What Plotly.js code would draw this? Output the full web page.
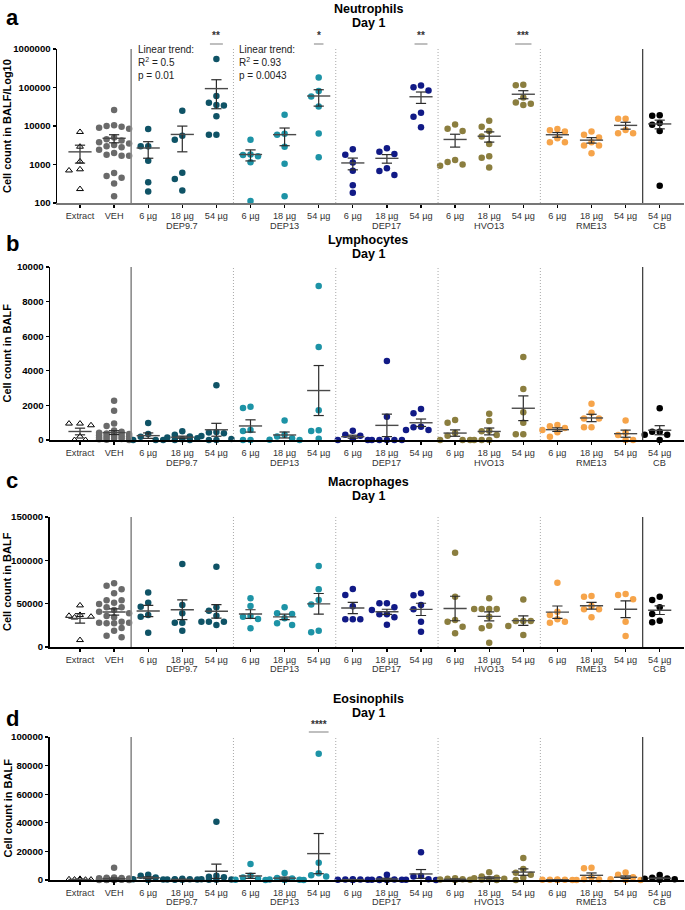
<!DOCTYPE html>
<html>
<head>
<meta charset="utf-8">
<script src="https://cdn.plot.ly/plotly-3.0.1.min.js"></script>
<style>
  html, body { margin: 0; padding: 0; background: #fff; }
  #chart { width: 685px; height: 910px; }
</style>
</head>
<body>
<div id="chart"></div>
<script>
// Cell counts in BALF, day 1 - one list per group

const doseLabels = ['Extract', 'VEH',
    '6 µg', '18 µg', '54 µg',
    '6 µg', '18 µg', '54 µg',
    '6 µg', '18 µg', '54 µg',
    '6 µg', '18 µg', '54 µg',
    '6 µg', '18 µg', '54 µg',
    '54 µg'];

// particle names, written under the middle dose of each group
const groupNames = ['DEP9.7', 'DEP13', 'DEP17', 'HVO13', 'RME13', 'CB'];
const groupCenters = [3, 6, 9, 12, 15, 17];

const neutrophils = [
    [7000, 2900, 1200, 750, 700, 230],
    [26000, 10500, 10000, 9500, 9000, 8500, 5000, 4500, 4200, 3800, 3500, 3200, 3000, 2800, 2400, 2000, 1800, 1700, 1700, 600, 500, 450, 320, 150],
    [8300, 3000, 3000, 1260, 345, 200],
    [25000, 5600, 4400, 610, 420, 210],
    [550000, 60000, 40000, 35000, 34000, 18000, 5900, 5900],
    [4400, 1830, 1770, 1650, 1140, 112],
    [19500, 6300, 5900, 2900, 1050, 150],
    [182000, 81000, 58000, 32000, 6400, 1550],
    [2500, 1800, 1120, 690, 290, 185],
    [2650, 2150, 1870, 800, 680, 530],
    [112000, 101000, 83000, 22000, 17500, 9300],
    [11000, 8500, 7400, 1310, 1160, 1000, 930],
    [13700, 9600, 7400, 5300, 3400, 1650, 1500, 830],
    [118000, 114000, 55000, 41000, 38000, 35000],
    [8300, 7700, 7200, 4800, 3800, 3800],
    [7200, 5900, 5000, 3800, 3100, 3100, 1950],
    [15500, 15500, 7900, 6500, 6500],
    [19000, 18500, 12000, 10700, 7400, 280]
];

const lymphocytes = [
    [950, 950, 850, 200, 0, 0],
    [2270, 1690, 960, 810, 550, 480, 420, 380, 350, 320, 300, 280, 250, 220, 200, 180, 150, 130, 100, 80, 60, 40, 20, 0],
    [980, 345, 190, 0, 0, 0],
    [500, 300, 200, 150, 100, 50, 0, 0],
    [3160, 460, 430, 390, 230, 60, 0, 0],
    [1920, 1850, 580, 520, 0, 0],
    [1120, 300, 200, 100, 20, 0],
    [8900, 5380, 1720, 560, 520, 75],
    [540, 300, 250, 50, 0, 0],
    [4570, 1350, 0, 0, 0, 0, 0],
    [1790, 1540, 760, 730, 580, 580],
    [1150, 1000, 400, 250, 0, 0, 0],
    [1520, 1100, 540, 500, 290, 0, 0, 0],
    [4800, 2950, 1600, 1000, 330, 330],
    [870, 800, 700, 580, 450, 190],
    [2100, 1580, 1250, 1250, 730, 730],
    [1120, 420, 290, 0, 0],
    [1830, 480, 480, 300, 300, 0]
];

const macrophages = [
    [48000, 37000, 36000, 35000, 34000, 8000],
    [73500, 70700, 66500, 62000, 54000, 54000, 51000, 49600, 45800, 45800, 42700, 40700, 38800, 35800, 34200, 29200, 28000, 27300, 28000, 27300, 21900, 18800, 13000, 11200],
    [63000, 51000, 46500, 37000, 35000, 16500],
    [95800, 48500, 38900, 28000, 28000, 18800],
    [92700, 45800, 41900, 36100, 29200, 29200, 29200, 25400],
    [56200, 47300, 35800, 35000, 32300, 21600],
    [45800, 38900, 38000, 33100, 27300, 25400],
    [93500, 66500, 54200, 49000, 18800, 16900],
    [67000, 60000, 47000, 32000, 32000, 32000],
    [50400, 50400, 45800, 42700, 37700, 37700, 34200, 25800],
    [62000, 59600, 48500, 43500, 29200, 17700],
    [108800, 58000, 31200, 29200, 23500, 15800],
    [56200, 43800, 43800, 43800, 43800, 35000, 24600, 21600, 5000],
    [54700, 30000, 30000, 30000, 24200, 13800],
    [74200, 40800, 37000, 32000, 29200, 28000],
    [58800, 58000, 47300, 43500, 43500, 34200],
    [61200, 60000, 55000, 29200, 12700],
    [58000, 54200, 45800, 38000, 30400, 28500]
];

const eosinophils = [
    [800, 500, 300, 300, 200, 100],
    [8500, 1800, 1600, 1400, 1200, 1000, 900, 800, 700, 600, 500, 500, 400, 400, 300, 300, 200, 200, 100, 100, 50, 50, 0, 0],
    [3700, 3000, 1800, 600, 300, 0],
    [800, 600, 500, 400, 300, 200, 100],
    [40700, 3000, 2300, 2000, 500, 300, 200, 100],
    [11200, 3000, 1800, 800, 200, 0],
    [4900, 1400, 1000, 300, 100, 0],
    [88200, 12000, 4800, 3300, 2400, 0],
    [500, 400, 300, 200, 100, 0],
    [3700, 500, 300, 200, 100, 0, 0],
    [19400, 2800, 2500, 500, 200, 0],
    [1200, 800, 500, 300, 200, 0],
    [5400, 2500, 1500, 1200, 800, 500, 300, 0],
    [15300, 7700, 5000, 3700, 1500, 0],
    [300, 200, 100, 100, 0, 0],
    [8500, 8300, 2000, 500, 300, 0],
    [5300, 3700, 2000, 500, 0, 0],
    [3500, 1500, 1000, 800, 500, 200]
];

// significance marks: [panel, category, text]
const sigMarks = [[0, 4, '**'], [0, 7, '*'], [0, 10, '**'], [0, 13, '***'], [3, 7, '****']];

// ---- styling / geometry ----
const W = 685, H = 910;
const CAT0 = 80, CATSTEP = 34.1, XR = 684;

const C_DEP97 = '#0f5366', C_DEP13 = '#1d93a6', C_DEP17 = '#111a86',
      C_HVO = '#8b7e3f', C_RME = '#f6a44a';
const catColors = ['#000000', '#6a6a6a',
    C_DEP97, C_DEP97, C_DEP97, C_DEP13, C_DEP13, C_DEP13,
    C_DEP17, C_DEP17, C_DEP17, C_HVO, C_HVO, C_HVO,
    C_RME, C_RME, C_RME, '#000000'];

const panels = [
    {data: neutrophils, title: 'Neutrophils', letter: 'a', ytitle: 'Cell count in BALF/Log10',
     xl: 57, top: 49, bot: 203, log: true, range: [2, 6],
     ticks: [100, 1000, 10000, 100000, 1000000], titleY: 9, letterY: 17, groupDy: 23},
    {data: lymphocytes, title: 'Lymphocytes', letter: 'b', ytitle: 'Cell count in BALF',
     xl: 50, top: 267, bot: 440, log: false, range: [0, 10000],
     ticks: [0, 2000, 4000, 6000, 8000, 10000], titleY: 240, letterY: 244, groupDy: 23},
    {data: macrophages, title: 'Macrophages', letter: 'c', ytitle: 'Cell count in BALF',
     xl: 49.5, top: 517, bot: 647, log: false, range: [0, 150000],
     ticks: [0, 50000, 100000, 150000], titleY: 482, letterY: 480, groupDy: 22},
    {data: eosinophils, title: 'Eosinophils', letter: 'd', ytitle: 'Cell count in BALF',
     xl: 49.5, top: 737, bot: 880, log: false, range: [0, 100000],
     ticks: [0, 20000, 40000, 60000, 80000, 100000], titleY: 699, letterY: 718, groupDy: 22}
];

const px2x = px => px / W;
const px2y = py => 1 - py / H;

function yPixel(p, v) {
    const t = p.log ? Math.log10(Math.max(v, 1)) : v;
    return p.bot - (t - p.range[0]) / (p.range[1] - p.range[0]) * (p.bot - p.top);
}

// simple beeswarm: put each dot in the first free slot, overlap when crowded
function swarm(p, vals, step, minDist) {
    const placed = [];
    const order = [0, -1, 1, -2, 2];
    return vals.map(v => {
        const py = yPixel(p, v);
        let best = 0, bestD = -1;
        for (const k of order) {
            const dx = k * step;
            let d = Infinity;
            placed.forEach(q => { d = Math.min(d, Math.hypot(q.dx - dx, q.py - py)); });
            if (d >= minDist) { best = dx; bestD = d; break; }
            if (d > bestD) { bestD = d; best = dx; }
        }
        placed.push({dx: best, py: py});
        return best / CATSTEP;
    });
}

function meanSem(vals) {
    const n = vals.length;
    const m = vals.reduce((a, b) => a + b, 0) / n;
    const sd = Math.sqrt(vals.reduce((a, b) => a + (b - m) * (b - m), 0) / (n - 1));
    return [m, sd / Math.sqrt(n)];
}

const traces = [];
const shapes = [];
const annotations = [];
const layout = {
    width: W, height: H,
    margin: {l: 0, r: 0, t: 0, b: 0},
    paper_bgcolor: '#ffffff', plot_bgcolor: '#ffffff',
    showlegend: false,
    hovermode: false,
    font: {family: 'Liberation Sans, Arial, sans-serif', color: '#000'}
};

panels.forEach((p, pi) => {
    const xa = 'x' + (pi ? pi + 1 : ''), ya = 'y' + (pi ? pi + 1 : '');
    const xKey = 'xaxis' + (pi ? pi + 1 : ''), yKey = 'yaxis' + (pi ? pi + 1 : '');

    layout[xKey] = {
        domain: [px2x(p.xl), px2x(XR)],
        range: [-(CAT0 - p.xl) / CATSTEP, (XR - CAT0) / CATSTEP],
        anchor: ya,
        tickmode: 'array',
        tickvals: doseLabels.map((t, i) => i),
        ticktext: doseLabels,
        tickfont: {size: 9.2, color: '#333'},
        showline: true, linecolor: pi === 0 ? '#777' : '#000', linewidth: 1.5,
        ticks: 'outside', ticklen: 3.5, tickwidth: 1.3, tickcolor: '#000',
        showgrid: false, zeroline: false, fixedrange: true
    };
    layout[yKey] = {
        domain: [px2y(p.bot), px2y(p.top)],
        type: p.log ? 'log' : 'linear',
        range: p.range,
        anchor: xa,
        tickmode: 'array',
        tickvals: p.ticks,
        ticktext: p.ticks.map(String),
        tickfont: {size: 9.6, weight: 'bold', color: '#000'},
        showline: true, linecolor: '#000', linewidth: 1.5,
        ticks: 'outside', ticklen: 3, tickwidth: 1.3, tickcolor: '#000',
        showgrid: false, zeroline: false, fixedrange: true
    };

    // group separators
    const vline = (x, color, width, dash) => shapes.push({
        type: 'line', xref: xa, yref: 'paper', x0: x, x1: x,
        y0: px2y(p.bot), y1: px2y(p.top),
        line: {color: color, width: width, dash: dash}
    });
    vline(1.5, '#8c8c8c', 1.6, 'solid');
    [4.5, 7.5, 10.5, 13.5].forEach(x => vline(x, '#a8a8a8', 1, '1px,2px'));
    vline(16.5, '#444', 1.3, 'solid');

    // dots
    p.data.forEach((vals, i) => {
        const tri = i === 0;
        const offs = swarm(p, vals, tri ? 5.5 : 7.5, tri ? 6 : 7);
        traces.push({
            type: 'scatter', mode: 'markers', xaxis: xa, yaxis: ya,
            x: vals.map((v, j) => i + offs[j]), y: vals,
            cliponaxis: false,
            marker: tri
                ? {symbol: 'triangle-up-open', size: 6, color: '#000', line: {width: 1}}
                : {symbol: 'circle', size: 6.5, color: catColors[i], line: {width: 0}}
        });
    });

    // mean line and SEM bars
    const mx = [], my = [], ex = [], ey = [];
    p.data.forEach((vals, i) => {
        const [m, s] = meanSem(vals);
        let lo = m - s;
        if (p.log && lo <= 0) lo = Math.pow(10, p.range[0]);
        mx.push(i - 0.34, i + 0.34, null); my.push(m, m, null);
        ex.push(i, i, null, i - 0.15, i + 0.15, null, i - 0.15, i + 0.15, null);
        ey.push(lo, m + s, null, m + s, m + s, null, lo, lo, null);
    });
    traces.push({type: 'scatter', mode: 'lines', xaxis: xa, yaxis: ya, x: ex, y: ey,
                 cliponaxis: false, line: {color: '#2b2b2b', width: 1.2}});
    traces.push({type: 'scatter', mode: 'lines', xaxis: xa, yaxis: ya, x: mx, y: my,
                 cliponaxis: false, line: {color: '#4a4a4a', width: 1.4}});

    // group names under the axis
    groupNames.forEach((g, k) => annotations.push({xref: xa, yref: 'paper',
        x: groupCenters[k], y: px2y(p.bot + p.groupDy), text: g, showarrow: false,
        xanchor: 'center', yanchor: 'middle', borderpad: 0, font: {size: 9.2, color: '#333'}}));

    // titles
    annotations.push({xref: 'paper', yref: 'paper', x: px2x(368), y: px2y(p.titleY),
        text: '<b>' + p.title + '</b>', showarrow: false, xanchor: 'center', yanchor: 'middle',
        borderpad: 0, font: {size: 12.5}});
    annotations.push({xref: 'paper', yref: 'paper', x: px2x(368), y: px2y(p.titleY + 14),
        text: '<b>Day 1</b>', showarrow: false, xanchor: 'center', yanchor: 'middle',
        borderpad: 0, font: {size: 12.5}});
    annotations.push({xref: 'paper', yref: 'paper', x: px2x(4), y: px2y(p.letterY),
        text: '<b>' + p.letter + '</b>', showarrow: false, xanchor: 'left', yanchor: 'middle',
        font: {size: 22}});
    annotations.push({xref: 'paper', yref: 'paper', x: px2x(7), y: px2y((p.top + p.bot) / 2),
        text: '<b>' + p.ytitle + '</b>', showarrow: false, textangle: -90,
        xanchor: 'center', yanchor: 'middle', font: {size: 11}});
});

// linear trend notes (panel a)
[[1.65, '0.5', '0.01'], [4.6, '0.93', '0.0043']].forEach(([x, r2, pv]) => {
    annotations.push({xref: 'x', yref: 'paper', x: x, y: px2y(42),
        text: 'Linear trend:<br>R<sup>2</sup> = ' + r2 + '<br>p = ' + pv,
        showarrow: false, xanchor: 'left', yanchor: 'top', align: 'left',
        font: {size: 10, color: '#222'}});
});

// significance stars with grey bar underneath
sigMarks.forEach(([pi, cat, txt]) => {
    const p = panels[pi];
    const xa = 'x' + (pi ? pi + 1 : '');
    const half = 0.09 + 0.05 * txt.length;
    annotations.push({xref: xa, yref: 'paper', x: cat, y: px2y(p.top - 13),
        text: '<b>' + txt + '</b>', showarrow: false, xanchor: 'center', yanchor: 'middle',
        font: {size: 10, color: '#333'}});
    shapes.push({type: 'line', xref: xa, yref: 'paper', x0: cat - half, x1: cat + half,
        y0: px2y(p.top - 5), y1: px2y(p.top - 5), line: {color: '#aaaaaa', width: 1.5}});
});

layout.shapes = shapes;
layout.annotations = annotations;

Plotly.newPlot('chart', traces, layout, {displayModeBar: false, staticPlot: true});
</script>
</body>
</html>
